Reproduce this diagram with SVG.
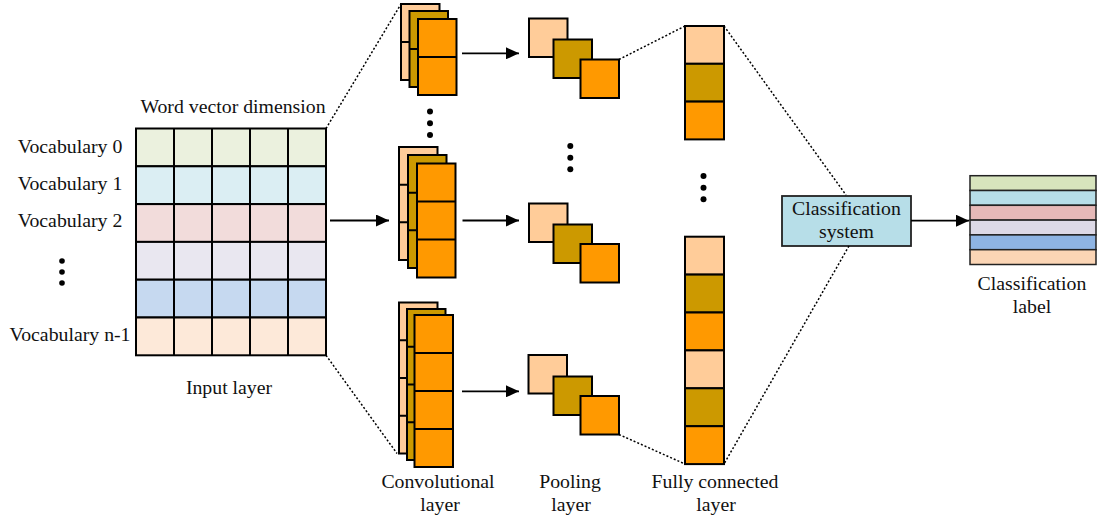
<svg xmlns="http://www.w3.org/2000/svg" width="1097" height="521" viewBox="0 0 1097 521">
  <style>
    text { font-family: "Liberation Serif", "Times New Roman", serif; font-size: 19.8px; fill: #111; }
    .mid { text-anchor: middle; }
    .cell { stroke: #000; stroke-width: 2; }
    .blk { stroke: #000; stroke-width: 2; }
    .pe { fill: #FFCC99; }
    .go { fill: #CC9900; }
    .or { fill: #FF9900; }
    .div { stroke: #000; stroke-width: 2; fill: none; }
    .dot { stroke: #000; stroke-width: 1.5; stroke-dasharray: 2 2; fill: none; }
    .arr { stroke: #000; stroke-width: 1.8; fill: none; marker-end: url(#head); }
  </style>
  <defs>
    <marker id="head" viewBox="0 0 13 12" refX="13" refY="6" markerWidth="13" markerHeight="12" markerUnits="userSpaceOnUse" orient="auto">
      <path d="M0,0 L13,6 L0,12 Z" fill="#000"/>
    </marker>
  </defs>
  <rect width="1097" height="521" fill="#fff"/>

  <!-- input layer: word-vector matrix -->
  <g id="input-layer">
    <text class="mid" x="233" y="113">Word vector dimension</text>
    <g class="cell">
      <rect x="136" y="128.5" width="190" height="37.8" fill="#EBF1DE"/>
      <rect x="136" y="166.3" width="190" height="37.8" fill="#DBEEF3"/>
      <rect x="136" y="204.1" width="190" height="37.8" fill="#F2DCDB"/>
      <rect x="136" y="241.9" width="190" height="37.8" fill="#E9E7F0"/>
      <rect x="136" y="279.7" width="190" height="37.8" fill="#C6D9F0"/>
      <rect x="136" y="317.5" width="190" height="37.8" fill="#FDE9D9"/>
    </g>
    <path class="div" d="M174,128.5V355.3 M212,128.5V355.3 M250,128.5V355.3 M288,128.5V355.3"/>
    <text class="mid" x="70" y="153">Vocabulary 0</text>
    <text class="mid" x="70" y="190">Vocabulary 1</text>
    <text class="mid" x="70" y="227">Vocabulary 2</text>
    <text class="mid" x="70" y="341">Vocabulary n-1</text>
    <circle cx="62" cy="261" r="2.8"/>
    <circle cx="62" cy="272" r="2.8"/>
    <circle cx="62" cy="283" r="2.8"/>
    <text class="mid" x="229" y="394">Input layer</text>
  </g>

  <!-- convolutional layer: three stacks of feature maps -->
  <g id="conv-top">
    <rect class="blk pe" x="401" y="4" width="38.5" height="76"/>
    <path class="div" d="M401,42H439.5"/>
    <rect class="blk go" x="409.5" y="11" width="38.5" height="76"/>
    <path class="div" d="M409.5,49H448"/>
    <rect class="blk or" x="418" y="19" width="38.5" height="76"/>
    <path class="div" d="M418,57H456.5"/>
  </g>
  <g id="conv-middle">
    <rect class="blk pe" x="399" y="147" width="38.5" height="113"/>
    <path class="div" d="M399,184.7H437.5 M399,222.3H437.5"/>
    <rect class="blk go" x="408" y="155" width="38.5" height="113"/>
    <path class="div" d="M408,192.7H446.5 M408,230.3H446.5"/>
    <rect class="blk or" x="417" y="163.5" width="38.5" height="114"/>
    <path class="div" d="M417,201.5H455.5 M417,239.5H455.5"/>
  </g>
  <g id="conv-bottom">
    <rect class="blk pe" x="399" y="302.5" width="38.5" height="151"/>
    <path class="div" d="M399,340.3H437.5 M399,378H437.5 M399,415.8H437.5"/>
    <rect class="blk go" x="407" y="309" width="38.5" height="151"/>
    <path class="div" d="M407,346.8H445.5 M407,384.5H445.5 M407,422.3H445.5"/>
    <rect class="blk or" x="414.5" y="315" width="38.5" height="152"/>
    <path class="div" d="M414.5,353H453 M414.5,391H453 M414.5,429H453"/>
  </g>
  <g id="conv-dots">
    <circle cx="430" cy="111.5" r="3"/>
    <circle cx="430" cy="123.3" r="3"/>
    <circle cx="430" cy="135" r="3"/>
  </g>
  <g id="conv-label">
    <text class="mid" x="438" y="488">Convolutional</text>
    <text class="mid" x="440" y="511">layer</text>
  </g>

  <!-- pooling layer -->
  <g id="pool-top">
    <rect class="blk pe" x="529" y="18.5" width="38.5" height="38.5"/>
    <rect class="blk go" x="553.5" y="39.5" width="38.5" height="38.5"/>
    <rect class="blk or" x="580.5" y="59.5" width="38.5" height="38.5"/>
  </g>
  <g id="pool-middle">
    <rect class="blk pe" x="529" y="203.5" width="38.5" height="38.5"/>
    <rect class="blk go" x="553.5" y="224.5" width="38.5" height="38.5"/>
    <rect class="blk or" x="580.5" y="244" width="38.5" height="38.5"/>
  </g>
  <g id="pool-bottom">
    <rect class="blk pe" x="528.5" y="355" width="38.5" height="38.5"/>
    <rect class="blk go" x="553.5" y="376.5" width="38.5" height="38.5"/>
    <rect class="blk or" x="580.5" y="396" width="38.5" height="38.5"/>
  </g>
  <g id="pool-dots">
    <circle cx="570.3" cy="146" r="3"/>
    <circle cx="570.3" cy="157.7" r="3"/>
    <circle cx="570.3" cy="169.3" r="3"/>
  </g>
  <g id="pool-label">
    <text class="mid" x="570" y="488">Pooling</text>
    <text class="mid" x="571" y="511">layer</text>
  </g>

  <!-- fully connected layer -->
  <g id="fc-top">
    <rect class="blk pe" x="685" y="26" width="39" height="37.8"/>
    <rect class="blk go" x="685" y="63.8" width="39" height="37.8"/>
    <rect class="blk or" x="685" y="101.6" width="39" height="37.8"/>
  </g>
  <g id="fc-bottom">
    <rect class="blk pe" x="685" y="236.7" width="39" height="37.9"/>
    <rect class="blk go" x="685" y="274.6" width="39" height="37.9"/>
    <rect class="blk or" x="685" y="312.5" width="39" height="37.9"/>
    <rect class="blk pe" x="685" y="350.4" width="39" height="37.9"/>
    <rect class="blk go" x="685" y="388.3" width="39" height="37.9"/>
    <rect class="blk or" x="685" y="426.2" width="39" height="37.9"/>
  </g>
  <g id="fc-dots">
    <circle cx="703.5" cy="176" r="3"/>
    <circle cx="703.5" cy="187.7" r="3"/>
    <circle cx="703.5" cy="199.3" r="3"/>
  </g>
  <g id="fc-label">
    <text class="mid" x="715" y="488">Fully connected</text>
    <text class="mid" x="716" y="511">layer</text>
  </g>

  <!-- classifier -->
  <g id="classification-system">
    <rect x="782" y="196" width="129" height="50" fill="#B7DEE8" stroke="#222" stroke-width="1.8"/>
    <text class="mid" x="846.5" y="215">Classification</text>
    <text class="mid" x="846.5" y="238">system</text>
  </g>

  <g id="classification-label">
    <g stroke="#222" stroke-width="1.5">
      <rect x="970" y="175.7" width="126" height="14.8" fill="#D7E4BD"/>
      <rect x="970" y="190.5" width="126" height="14.8" fill="#B7DEE8"/>
      <rect x="970" y="205.3" width="126" height="14.8" fill="#E6B9B8"/>
      <rect x="970" y="220.1" width="126" height="14.8" fill="#DDD9E6"/>
      <rect x="970" y="234.9" width="126" height="14.8" fill="#8EB4E3"/>
      <rect x="970" y="249.7" width="126" height="14.8" fill="#FBD5B5"/>
    </g>
    <text class="mid" x="1032" y="290">Classification</text>
    <text class="mid" x="1032" y="313">label</text>
  </g>

  <!-- connectors -->
  <g id="connectors">
    <path class="arr" d="M330,220.5H389"/>
    <path class="arr" d="M462,53.3H519"/>
    <path class="arr" d="M462.5,220.5H519"/>
    <path class="arr" d="M462,391.3H519"/>
    <path class="arr" d="M911,220.7H969"/>
    <path class="dot" d="M326,128.5L401,4"/>
    <path class="dot" d="M326,355.3L397,453.5"/>
    <path class="dot" d="M619,59.5L685,26"/>
    <path class="dot" d="M619,434.5L685,464"/>
    <path class="dot" d="M724,26L846,195"/>
    <path class="dot" d="M849,246L724,464"/>
  </g>
</svg>
